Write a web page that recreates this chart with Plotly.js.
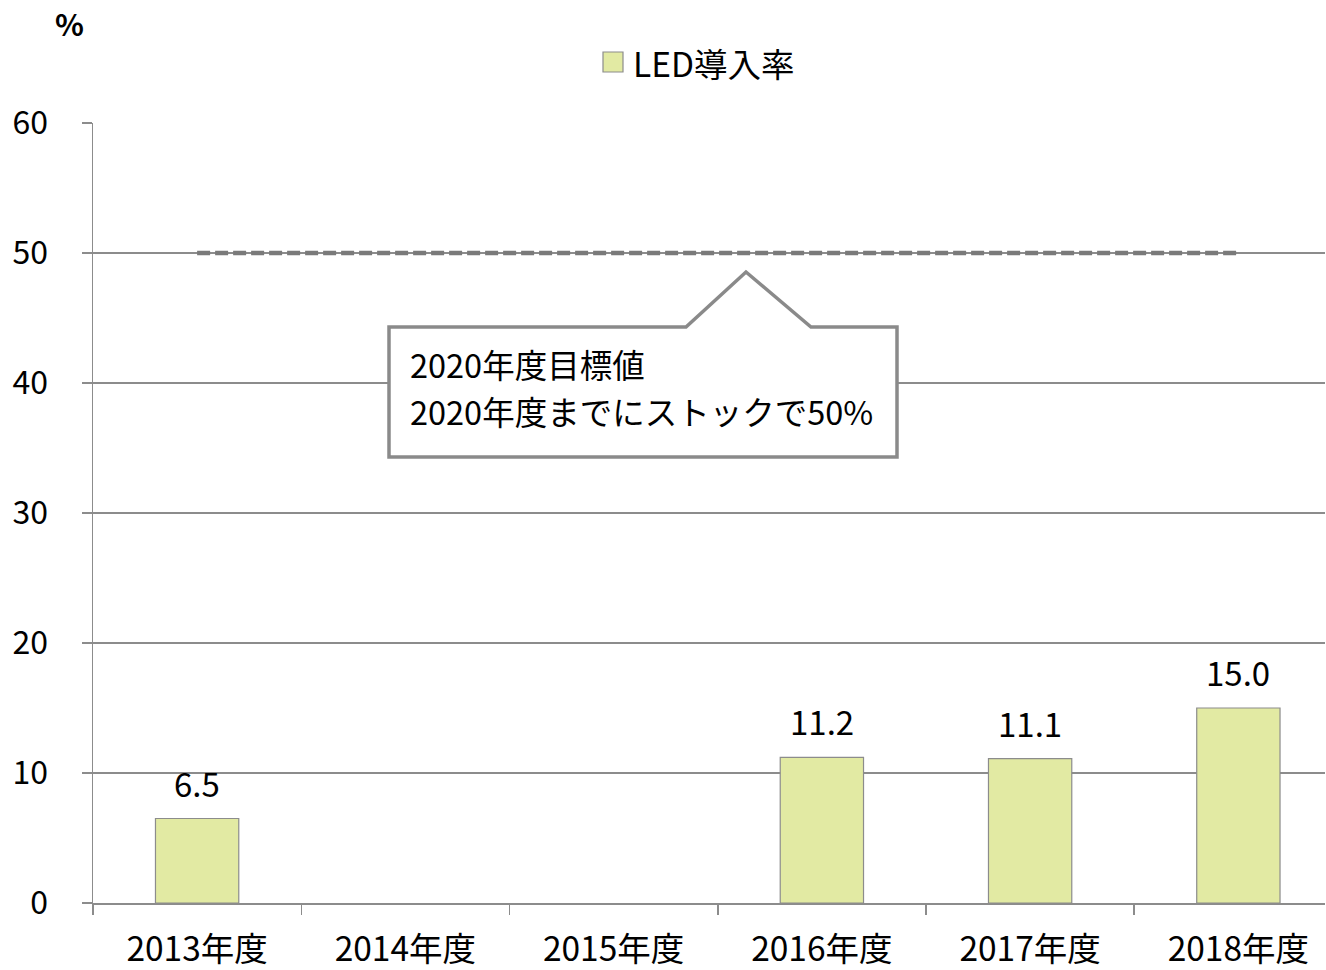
<!DOCTYPE html>
<html>
<head>
<meta charset="utf-8">
<script src="https://cdn.plot.ly/plotly-3.0.1.min.js"></script>
<style>
html,body{margin:0;padding:0;background:#fff;}
#chart{width:1326px;height:970px;}
</style>
</head>
<body>
<div id="chart"></div>
<script>
const categories = ["2013年度","2014年度","2015年度","2016年度","2017年度","2018年度"];
const ledRate = [6.5, null, null, 11.2, 11.1, 15.0];
const targetValue = [50, 50, 50, 50, 50, 50];
const seriesName = "LED導入率";
const calloutLines = ["2020年度目標値", "2020年度までにストックで50%"];
const yTicks = [0, 10, 20, 30, 40, 50, 60];

const FONT = '"Noto Sans CJK JP", "Noto Sans", sans-serif';
const GRID = '#8c8c8c';
const BAR_FILL = '#e2eaa3';

const traces = [
  {
    type: 'bar',
    name: seriesName,
    x: categories,
    y: ledRate,
    width: 0.4,
    marker: {color: BAR_FILL, line: {color: '#8c8c8c', width: 1.2}},
    showlegend: false,
    hoverinfo: 'x+y'
  },
  {
    type: 'scatter',
    mode: 'lines',
    name: '2020年度目標値',
    x: categories,
    y: targetValue,
    line: {color: '#7a7a7a', width: 4.5, dash: '13px,5px'},
    showlegend: false,
    hoverinfo: 'skip'
  }
];

const P = (px) => (px - 93) / 1232;
const Q = (py) => (903 - py) / 780;

const annotations = [];
categories.forEach((c, i) => {
  if (ledRate[i] !== null) {
    annotations.push({
      x: c, y: ledRate[i], xref: 'x', yref: 'y',
      text: ledRate[i].toFixed(1), showarrow: false,
      yanchor: 'bottom', yshift: 10,
      font: {family: FONT, size: 33, color: '#000'}
    });
  }
});
annotations.push({
  xref: 'paper', yref: 'paper', x: P(69), y: Q(23),
  text: '<b>%</b>', showarrow: false, xanchor: 'center', yanchor: 'middle',
  font: {family: FONT, size: 30, color: '#000'}
});
annotations.push({
  xref: 'paper', yref: 'paper', x: P(408), y: Q(363),
  text: calloutLines[0], showarrow: false, xanchor: 'left', yanchor: 'middle',
  font: {family: FONT, size: 32.5, color: '#000'}
});
annotations.push({
  xref: 'paper', yref: 'paper', x: P(408), y: Q(410),
  text: calloutLines[1], showarrow: false, xanchor: 'left', yanchor: 'middle',
  font: {family: FONT, size: 32.5, color: '#000'}
});
// legend text
annotations.push({
  xref: 'paper', yref: 'paper', x: P(631), y: Q(62),
  text: seriesName, showarrow: false, xanchor: 'left', yanchor: 'middle',
  font: {family: FONT, size: 33.5, color: '#000'}
});

const calloutPath =
  'M' + P(389) + ',' + Q(327) +
  ' L' + P(686) + ',' + Q(327) +
  ' L' + P(746) + ',' + Q(272) +
  ' L' + P(811) + ',' + Q(327) +
  ' L' + P(897) + ',' + Q(327) +
  ' L' + P(897) + ',' + Q(457) +
  ' L' + P(389) + ',' + Q(457) + ' Z';

const layout = {
  width: 1326, height: 970,
  margin: {l: 93, r: 1, t: 123, b: 67},
  paper_bgcolor: '#fff', plot_bgcolor: '#fff',
  font: {family: FONT, size: 30, color: '#000'},
  showlegend: false,
  xaxis: {
    type: 'category',
    tickson: 'boundaries',
    ticks: 'outside', ticklen: 10, tickcolor: GRID, tickwidth: 1.5,
    showline: true, linecolor: GRID, linewidth: 1.5,
    showgrid: false,
    tickfont: {family: FONT, size: 33.5, color: '#000'},
    ticklabelstandoff: 16,
    range: [-0.5, 5.416],
    fixedrange: true
  },
  yaxis: {
    range: [0, 60],
    tickvals: yTicks,
    ticks: 'outside', ticklen: 10, tickcolor: GRID, tickwidth: 1.5,
    showline: true, linecolor: GRID, linewidth: 1.5,
    showgrid: true, gridcolor: GRID, gridwidth: 1.2,
    zeroline: false,
    tickfont: {family: FONT, size: 32, color: '#000'},
    ticklabelstandoff: 27,
    fixedrange: true
  },
  shapes: [
    {
      type: 'path', xref: 'paper', yref: 'paper',
      path: calloutPath,
      fillcolor: '#ffffff',
      line: {color: '#8a8a8a', width: 3.5},
      layer: 'above'
    },
    {
      type: 'rect', xref: 'paper', yref: 'paper',
      x0: P(603), x1: P(623), y0: Q(72), y1: Q(52),
      fillcolor: BAR_FILL,
      line: {color: '#8c8c8c', width: 1.2},
      layer: 'above'
    }
  ],
  annotations: annotations
};

Plotly.newPlot('chart', traces, layout, {displayModeBar: false, staticPlot: true});
</script>
</body>
</html>
